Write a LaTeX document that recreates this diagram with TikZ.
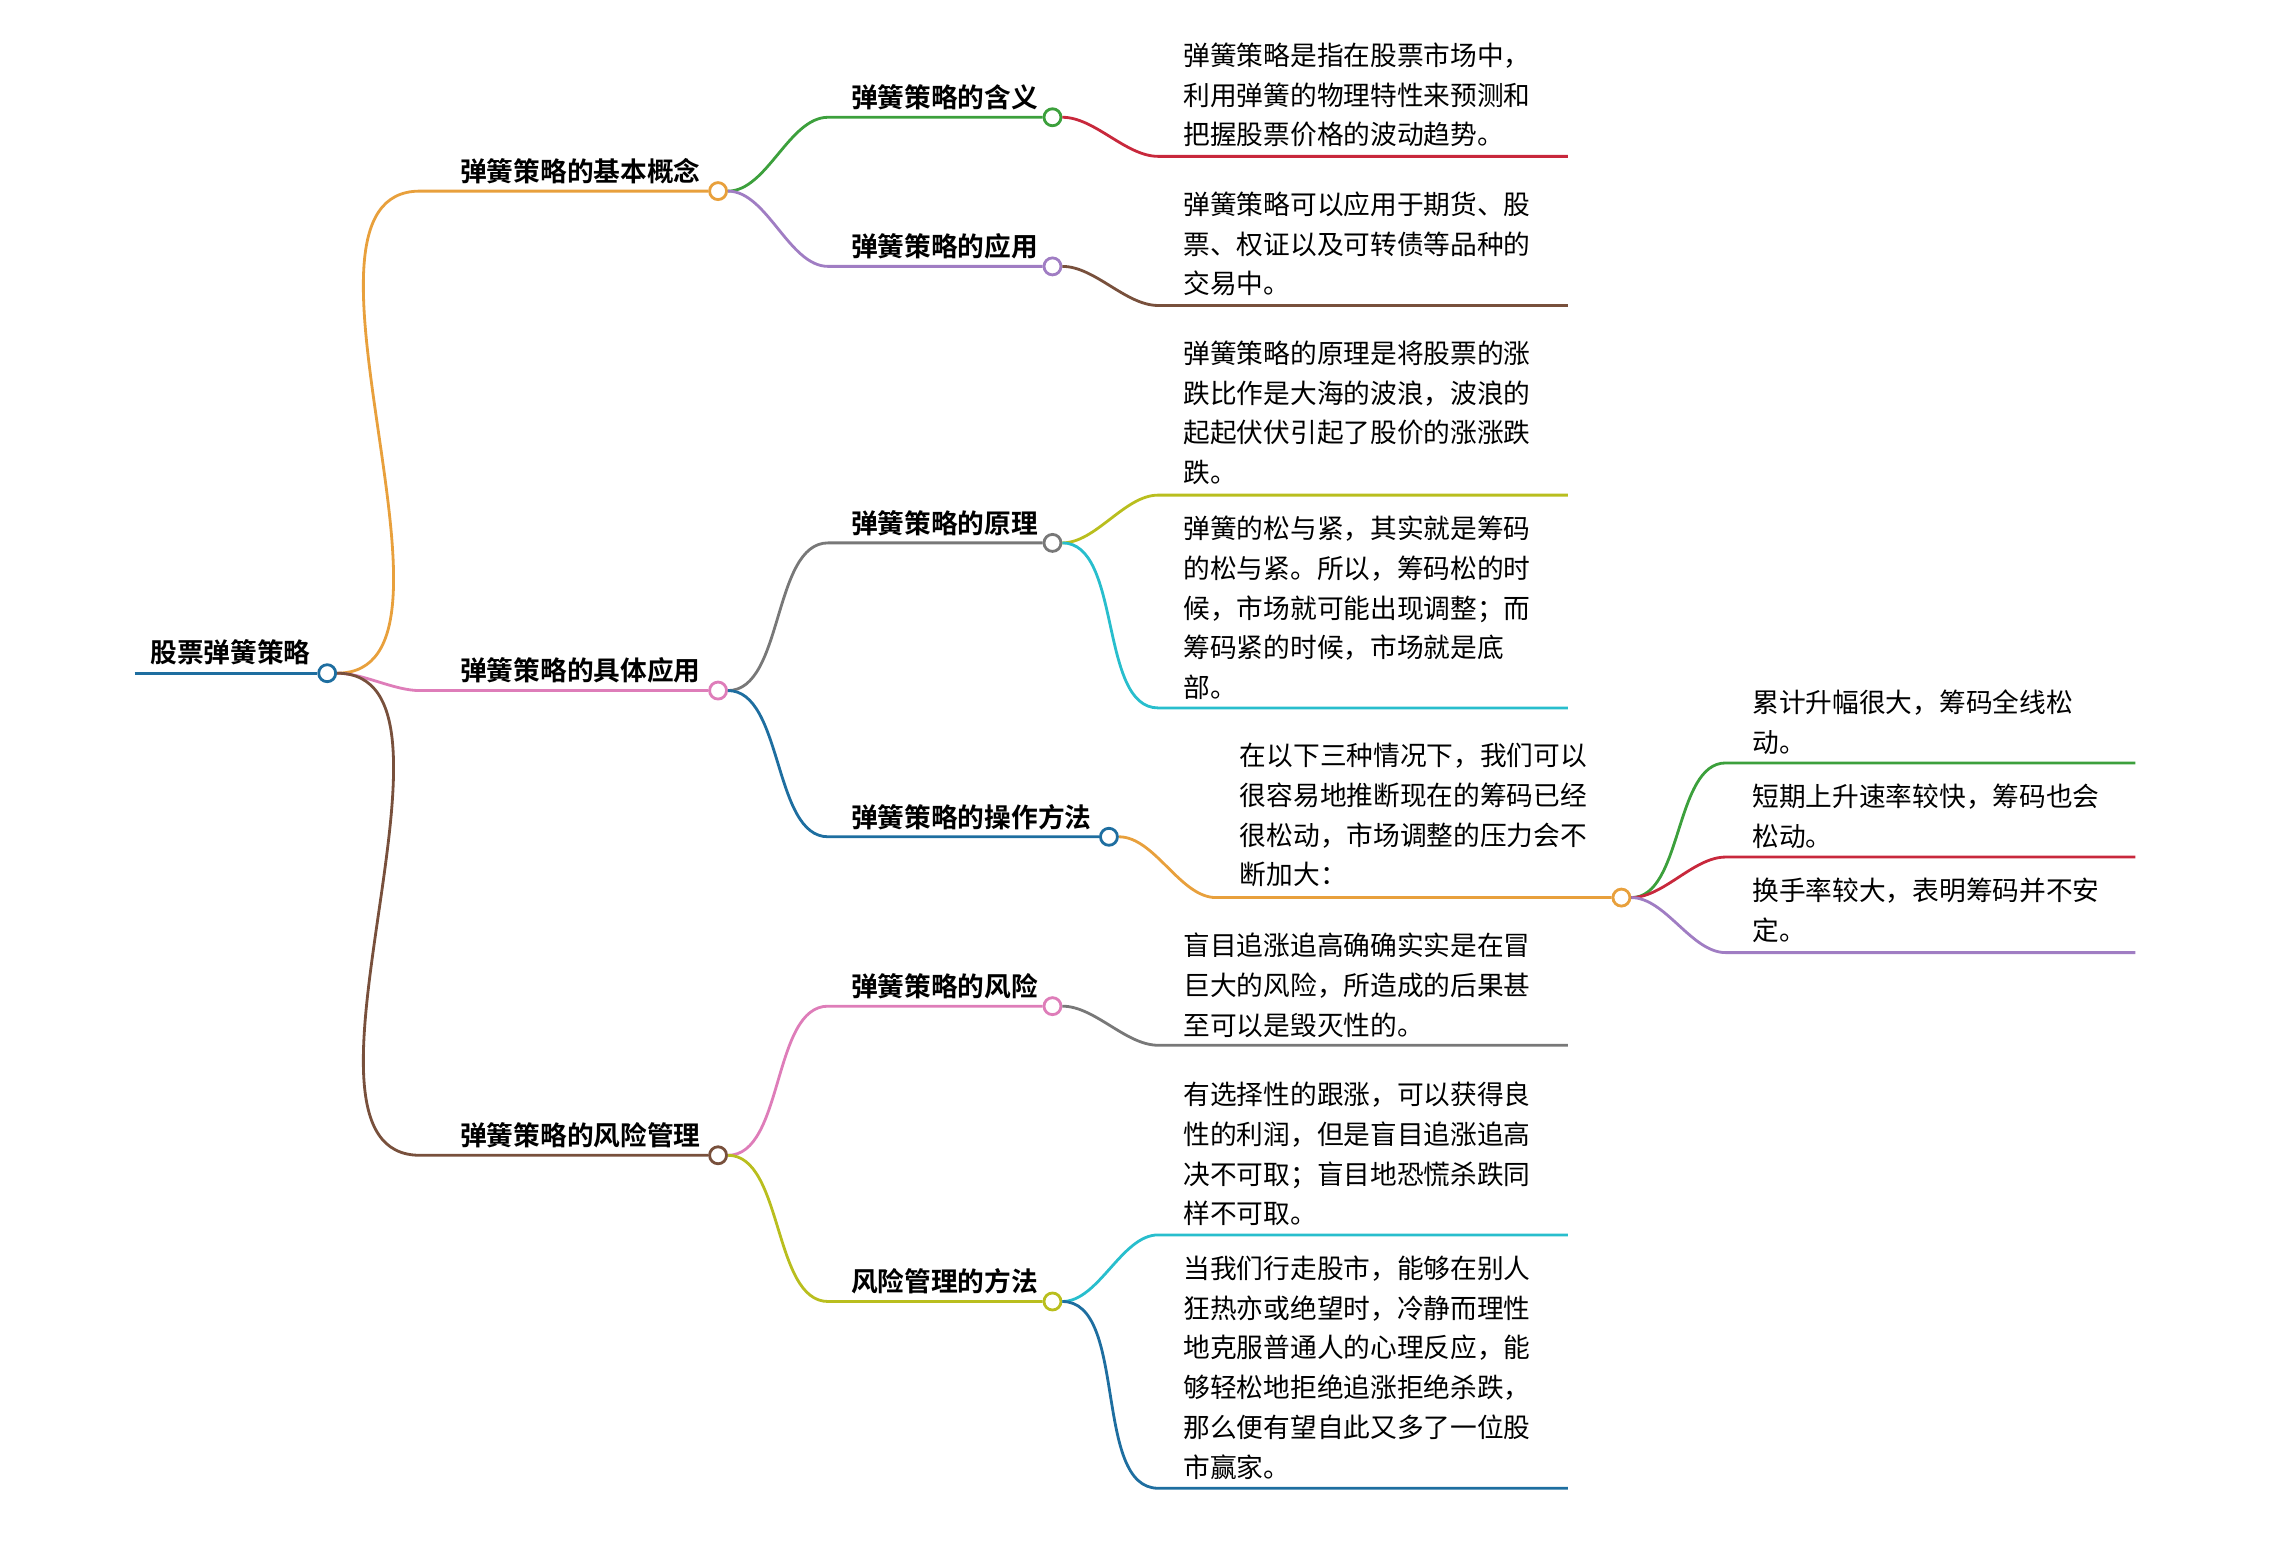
\documentclass[tikz,border=0pt]{standalone}
\usepackage{fontspec}
\setmainfont{Noto Sans CJK SC}[BoldFont={Noto Sans CJK SC Bold}]
\usetikzlibrary{positioning}
\definecolor{cOrange}{RGB}{232,160,60}
\definecolor{cPink}{RGB}{222,125,185}
\definecolor{cBrown}{RGB}{120,80,60}
\definecolor{cGreen}{RGB}{60,160,60}
\definecolor{cPurple}{RGB}{160,125,195}
\definecolor{cRed}{RGB}{200,40,60}
\definecolor{cGray}{RGB}{120,120,120}
\definecolor{cBlue}{RGB}{30,110,160}
\definecolor{cOlive}{RGB}{185,190,30}
\definecolor{cCyan}{RGB}{40,190,205}
\tikzset{
  topic/.style = {anchor=south west, inner sep=1pt, font=\fontsize{7.6pt}{11.3pt}\selectfont\bfseries},
  leaf/.style = {anchor=north west, inner sep=0pt, align=left, font=\fontsize{7.6pt}{11.3pt}\selectfont},
  dot/.style = {circle, draw=#1, fill=white, line width=0.8pt, minimum size=0.17cm, inner sep=0pt},
  branch/.style = {draw=#1, line width=0.8pt},
  curvy/.style = {out=0, in=180, looseness=0.8}
}
\begin{document}
\begin{tikzpicture}[x=0.014477cm, y=-0.014477cm]
  \useasboundingbox (0,0) rectangle (1568,1075);

  % root
  \coordinate (r0) at (93,465);
  \node[dot=cBlue] (r) at (226,465) {};
  \draw[branch=cBlue] (r0) -- (r);
  \node[topic] at (101,462) {股票弹簧策略};

  % level one
  \foreach \name/\y/\col/\txt in {a/132/cOrange/弹簧策略的基本概念, b/477/cPink/弹簧策略的具体应用, c/798/cBrown/弹簧策略的风险管理} {
    \coordinate (\name0) at (290,\y);
    \node[dot=\col] (\name) at (496,\y) {};
    \draw[branch=\col] (r.east) to[curvy] (\name0) -- (\name);
    \node[topic] at (315,\y-2) {\txt};
  }

  % level two
  \foreach \src/\name/\y/\xe/\col/\txt in {a/a1/81/727/cGreen/弹簧策略的含义, a/a2/184/727/cPurple/弹簧策略的应用, b/b1/375/727/cGray/弹簧策略的原理, b/b2/578/766/cBlue/弹簧策略的操作方法, c/c1/695/727/cPink/弹簧策略的风险, c/c2/899/727/cOlive/风险管理的方法} {
    \coordinate (\name0) at (572,\y);
    \node[dot=\col] (\name) at (\xe,\y) {};
    \draw[branch=\col] (\src.east) to[curvy] (\name0) -- (\name);
    \node[topic] at (585,\y-2) {\txt};
  }

  % leaves
  \foreach \src/\name/\y/\col in {a1/l1/108/cRed, a2/l2/211/cBrown, b1/l3/342/cOlive, b1/l4/489/cCyan, c1/l5/722/cGray, c2/l6/853/cCyan, c2/l7/1028/cBlue} {
    \coordinate (\name0) at (800,\y);
    \coordinate (\name1) at (1083,\y);
    \draw[branch=\col] (\src.east) to[curvy] (\name0) -- (\name1);
  }
  \node[leaf] at (817,29) {弹簧策略是指在股票市场中，\\利用弹簧的物理特性来预测和\\把握股票价格的波动趋势。};
  \node[leaf] at (817,132) {弹簧策略可以应用于期货、股\\票、权证以及可转债等品种的\\交易中。};
  \node[leaf] at (817,235) {弹簧策略的原理是将股票的涨\\跌比作是大海的波浪，波浪的\\起起伏伏引起了股价的涨涨跌\\跌。};
  \node[leaf] at (817,356) {弹簧的松与紧，其实就是筹码\\的松与紧。所以，筹码松的时\\候，市场就可能出现调整；而\\筹码紧的时候，市场就是底\\部。};
  \node[leaf] at (817,644) {盲目追涨追高确确实实是在冒\\巨大的风险，所造成的后果甚\\至可以是毁灭性的。};
  \node[leaf] at (817,747) {有选择性的跟涨，可以获得良\\性的利润，但是盲目追涨追高\\决不可取；盲目地恐慌杀跌同\\样不可取。};
  \node[leaf] at (817,867) {当我们行走股市，能够在别人\\狂热亦或绝望时，冷静而理性\\地克服普通人的心理反应，能\\够轻松地拒绝追涨拒绝杀跌，\\那么便有望自此又多了一位股\\市赢家。};

  % operation branch
  \coordinate (m0) at (840,620);
  \node[dot=cOrange] (m) at (1120,620) {};
  \draw[branch=cOrange] (b2.east) to[curvy] (m0) -- (m);
  \node[leaf] at (856,513) {在以下三种情况下，我们可以\\很容易地推断现在的筹码已经\\很松动，市场调整的压力会不\\断加大：};
  \foreach \name/\y/\col in {n1/527/cGreen, n2/592/cRed, n3/658/cPurple} {
    \coordinate (\name0) at (1192,\y);
    \coordinate (\name1) at (1475,\y);
    \draw[branch=\col] (m.east) to[curvy] (\name0) -- (\name1);
  }
  \node[leaf] at (1210,476) {累计升幅很大，筹码全线松\\动。};
  \node[leaf] at (1210,541) {短期上升速率较快，筹码也会\\松动。};
  \node[leaf] at (1210,606) {换手率较大，表明筹码并不安\\定。};
\end{tikzpicture}
\end{document}
